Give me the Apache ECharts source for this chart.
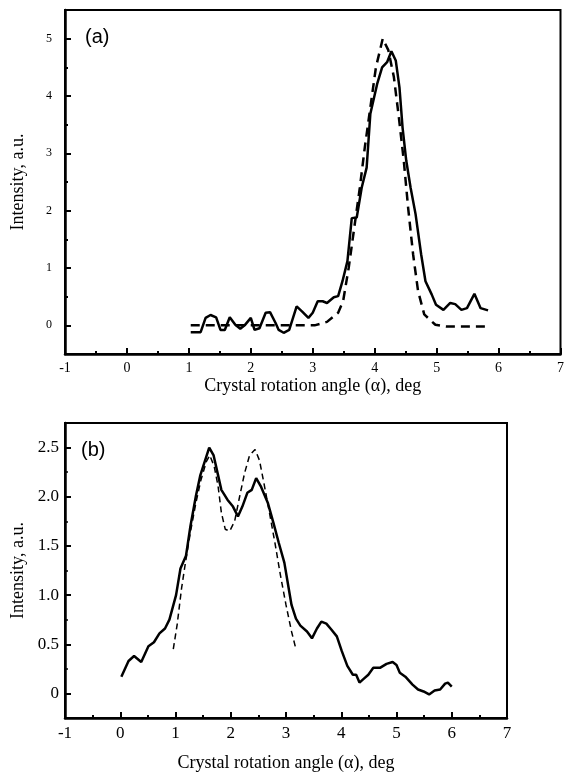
<!DOCTYPE html>
<html>
<head>
<meta charset="utf-8">
<script src="https://cdn.jsdelivr.net/npm/echarts@6/dist/echarts.min.js"></script>
<style>
html,body{margin:0;padding:0;background:#fff;}
#chart{width:567px;height:774px;}
</style>
</head>
<body>
<div id="chart"></div>
<script>
// Panel (a): measured (solid) and calculated (dashed) curves
const aMeasuredX = [1.03,1.19,1.27,1.35,1.44,1.51,1.58,1.66,1.75,1.83,1.9,2.0,2.06,2.14,2.24,2.31,2.4,2.45,2.53,2.62,2.74,2.83,2.93,3.0,3.08,3.16,3.23,3.34,3.41,3.48,3.56,3.63,3.71,3.79,3.87,3.93,4.04,4.12,4.2,4.27,4.34,4.4,4.45,4.51,4.58,4.66,4.75,4.82,4.92,4.99,5.11,5.22,5.3,5.4,5.49,5.61,5.71,5.83];
const aMeasuredY = [-0.12,-0.12,0.13,0.18,0.14,-0.08,-0.08,0.14,0.01,-0.06,0,0.13,-0.08,-0.05,0.22,0.23,0.04,-0.08,-0.13,-0.08,0.33,0.24,0.13,0.22,0.42,0.42,0.39,0.49,0.51,0.77,1.12,1.87,1.88,2.4,2.75,3.69,4.21,4.5,4.59,4.78,4.62,4.15,3.45,2.87,2.4,1.94,1.24,0.77,0.54,0.36,0.27,0.39,0.37,0.27,0.3,0.55,0.3,0.26];
const aFitX = [1.03,1.5,2.0,2.5,2.85,3.03,3.23,3.41,3.49,3.58,3.67,3.76,3.84,3.93,4.02,4.13,4.22,4.31,4.39,4.47,4.54,4.62,4.7,4.8,4.98,5.15,5.5,5.85];
const aFitY = [0,0,0,0,0,0,0.06,0.22,0.42,1.0,1.7,2.4,3.1,3.8,4.5,5.0,4.8,4.33,3.63,2.87,2.05,1.24,0.6,0.19,0.01,-0.02,-0.02,-0.02];

// Panel (b)
const bMeasuredX = [0.02,0.15,0.25,0.38,0.51,0.61,0.71,0.81,0.89,1.01,1.09,1.19,1.27,1.37,1.45,1.53,1.61,1.69,1.77,1.83,1.94,2.04,2.13,2.21,2.3,2.38,2.46,2.55,2.67,2.77,2.87,2.97,3.03,3.1,3.18,3.26,3.38,3.47,3.56,3.64,3.73,3.82,3.92,4.01,4.11,4.21,4.27,4.33,4.41,4.49,4.58,4.7,4.82,4.93,5.0,5.06,5.16,5.29,5.39,5.49,5.59,5.69,5.79,5.88,5.93,6.0];
const bMeasuredY = [0.17,0.33,0.38,0.32,0.48,0.52,0.61,0.66,0.75,1.0,1.27,1.4,1.7,2.01,2.22,2.36,2.5,2.42,2.22,2.07,1.97,1.9,1.8,1.9,2.04,2.07,2.19,2.1,1.94,1.74,1.53,1.33,1.13,0.9,0.76,0.69,0.63,0.56,0.66,0.73,0.71,0.65,0.58,0.43,0.28,0.19,0.19,0.11,0.15,0.19,0.26,0.26,0.3,0.32,0.29,0.21,0.17,0.09,0.04,0.02,-0.01,0.03,0.04,0.1,0.11,0.07];
const bFitX = [0.96,1.03,1.11,1.18,1.27,1.37,1.46,1.56,1.62,1.7,1.77,1.83,1.9,1.98,2.07,2.16,2.25,2.34,2.44,2.52,2.6,2.7,2.8,2.9,3.0,3.1,3.18];
const bFitY = [0.45,0.7,1.07,1.33,1.64,1.94,2.17,2.36,2.42,2.31,2.11,1.84,1.67,1.65,1.75,2.0,2.24,2.42,2.48,2.37,2.14,1.84,1.53,1.2,0.9,0.63,0.45];

const xTicks = [-1,0,1,2,3,4,5,6,7];
const aYTicks = [0,1,2,3,4,5];
const bYTicks = [0,0.5,1.0,1.5,2.0,2.5];
const xName = 'Crystal rotation angle (\u03b1), deg';
const yName = 'Intensity, a.u.';

const zip = (xs, ys) => xs.map((x, i) => [x, ys[i]]);
const SERIF = 'Liberation Serif';
const SANS = 'Liberation Sans';

const G0 = { left: 65, top: 10, width: 498, height: 344 };
const G1 = { left: 65, top: 423, width: 442, height: 295 };

function xAxisCfg(gridIndex, fontSize, labelMargin, nameGap) {
  return {
    type: 'value', gridIndex, position: 'bottom', min: -1, max: 7, interval: 1,
    name: xName, nameLocation: 'middle', nameGap,
    nameTextStyle: { fontFamily: SERIF, fontSize: 18, color: '#000' },
    axisLine: { show: true, onZero: false, lineStyle: { color: '#000', width: 2.5 } },
    axisTick: { show: true, inside: true, length: 6, lineStyle: { color: '#000', width: 2 } },
    minorTick: { show: true, splitNumber: 2, length: 3, lineStyle: { color: '#000', width: 2 } },
    splitLine: { show: false },
    axisLabel: { fontFamily: SERIF, fontSize, color: '#000', margin: labelMargin,
      customValues: xTicks, formatter: v => String(v) }
  };
}
function hiddenX(gridIndex) {
  return { type: 'value', gridIndex, min: -1, max: 7, interval: 1, show: false };
}
// y axis in an overlaid grid, used only to draw the longer ticks at labelled values
function majorTickAxis(gridIndex, min, max, interval, ticks) {
  return {
    type: 'value', gridIndex, position: 'left', min, max, interval,
    axisLine: { show: false, onZero: false },
    axisTick: { show: true, inside: true, length: 6, customValues: ticks, lineStyle: { color: '#000', width: 2 } },
    splitLine: { show: false },
    axisLabel: { show: false }
  };
}

const option = {
  backgroundColor: '#fff',
  animation: false,
  title: [
    { text: '(a)', left: 80, top: 22, textStyle: { fontFamily: SANS, fontSize: 20, fontWeight: 'normal', color: '#000' } },
    { text: '(b)', left: 76, top: 435, textStyle: { fontFamily: SANS, fontSize: 20, fontWeight: 'normal', color: '#000' } }
  ],
  grid: [
    Object.assign({ show: true, borderColor: '#000', borderWidth: 2, backgroundColor: 'transparent' }, G0),
    Object.assign({ show: true, borderColor: '#000', borderWidth: 2, backgroundColor: 'transparent' }, G1),
    Object.assign({ show: false }, G0),
    Object.assign({ show: false }, G1)
  ],
  xAxis: [
    xAxisCfg(0, 14, 7, 23),
    xAxisCfg(1, 17, 7, 36),
    hiddenX(2),
    hiddenX(3)
  ],
  yAxis: [
    {
      type: 'value', gridIndex: 0, position: 'left', min: -0.5, max: 5.5, interval: 0.5,
      name: yName, nameLocation: 'middle', nameGap: 38,
      nameTextStyle: { fontFamily: SERIF, fontSize: 18, color: '#000' },
      axisLine: { show: true, onZero: false, lineStyle: { color: '#000', width: 2.5 } },
      axisTick: { show: true, inside: true, length: 3, lineStyle: { color: '#000', width: 2 } },
      splitLine: { show: false },
      axisLabel: { fontFamily: SERIF, fontSize: 12, color: '#000', margin: 13,
        customValues: aYTicks, formatter: v => String(v) }
    },
    {
      type: 'value', gridIndex: 1, position: 'left', min: -0.25, max: 2.75, interval: 0.25,
      name: yName, nameLocation: 'middle', nameGap: 37,
      nameTextStyle: { fontFamily: SERIF, fontSize: 18, color: '#000' },
      axisLine: { show: true, onZero: false, lineStyle: { color: '#000', width: 2.5 } },
      axisTick: { show: true, inside: true, length: 3, lineStyle: { color: '#000', width: 1.5 } },
      splitLine: { show: false },
      axisLabel: { fontFamily: SERIF, fontSize: 17, color: '#000', margin: 6,
        customValues: bYTicks, formatter: v => (Math.abs(v) < 1e-9 ? '0' : v.toFixed(1)) }
    },
    majorTickAxis(2, -0.5, 5.5, 0.5, aYTicks),
    majorTickAxis(3, -0.25, 2.75, 0.25, bYTicks)
  ],
  series: [
    { type: 'line', xAxisIndex: 0, yAxisIndex: 0, data: zip(aMeasuredX, aMeasuredY), symbol: 'none',
      lineStyle: { color: '#000', width: 2.5 } },
    { type: 'line', xAxisIndex: 0, yAxisIndex: 0, data: zip(aFitX, aFitY), symbol: 'none',
      lineStyle: { color: '#000', width: 2.5, type: [9, 6] } },
    { type: 'line', xAxisIndex: 1, yAxisIndex: 1, data: zip(bMeasuredX, bMeasuredY), symbol: 'none',
      lineStyle: { color: '#000', width: 2.5 } },
    { type: 'line', xAxisIndex: 1, yAxisIndex: 1, data: zip(bFitX, bFitY), symbol: 'none',
      lineStyle: { color: '#000', width: 1.5, type: [6, 4] } }
  ]
};

const chart = echarts.init(document.getElementById('chart'), null, { renderer: 'canvas' });
chart.setOption(option);
</script>
</body>
</html>
